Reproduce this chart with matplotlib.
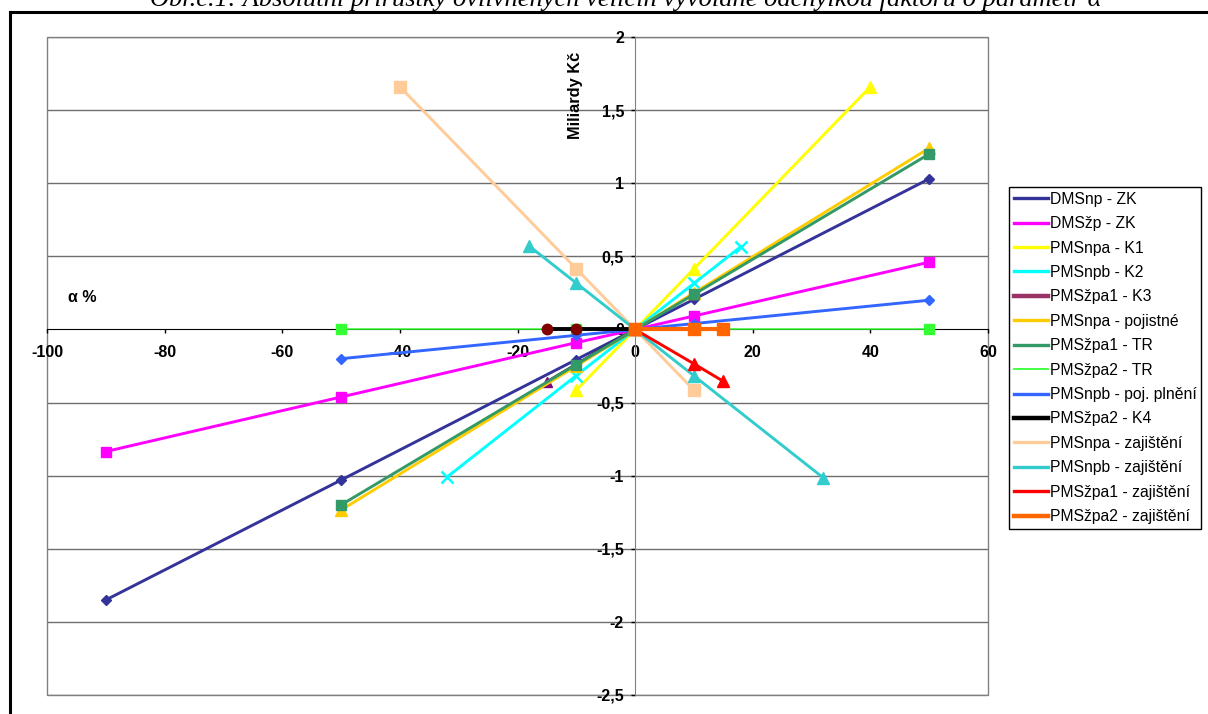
import matplotlib
matplotlib.use('Agg')
import matplotlib.pyplot as plt
from matplotlib.lines import Line2D
from matplotlib.patches import Rectangle
from matplotlib.ticker import FuncFormatter

plt.rcParams['font.family'] = ['Liberation Sans', 'DejaVu Sans']

# === data (x = alpha %, y = miliardy Kč) ===
names = ['DMSnp - ZK', 'DMSžp - ZK', 'PMSnpa - K1', 'PMSnpb - K2', 'PMSžpa1 - K3',
         'PMSnpa - pojistné', 'PMSžpa1 - TR', 'PMSžpa2 - TR', 'PMSnpb - poj. plnění',
         'PMSžpa2 - K4', 'PMSnpa - zajištění', 'PMSnpb - zajištění',
         'PMSžpa1 - zajištění', 'PMSžpa2 - zajištění']

x_dmsnp_zk = [-90, -50, -10, 0, 10, 50]
y_dmsnp_zk = [-1.85, -1.03, -0.206, 0, 0.206, 1.03]
x_dmszp_zk = [-90, -50, -10, 0, 10, 50]
y_dmszp_zk = [-0.835, -0.462, -0.09, 0, 0.092, 0.46]
x_npa_k1 = [-10, 0, 10, 40]
y_npa_k1 = [-0.415, 0, 0.415, 1.66]
x_npb_k2 = [-32, -10, 0, 10, 18]
y_npb_k2 = [-1.01, -0.315, 0, 0.315, 0.567]
x_zpa1_k3 = [-15, 0]
y_zpa1_k3 = [-0.36, 0]
x_npa_poj = [-50, -10, 0, 10, 50]
y_npa_poj = [-1.235, -0.25, 0, 0.25, 1.24]
x_zpa1_tr = [-50, -10, 0, 10, 50]
y_zpa1_tr = [-1.2, -0.24, 0, 0.24, 1.2]
x_zpa2_tr = [-50, -10, 0, 10, 50]
y_zpa2_tr = [0, 0, 0, 0, 0]
x_npb_pp = [-50, -10, 0, 10, 50]
y_npb_pp = [-0.2, -0.04, 0, 0.04, 0.2]
x_zpa2_k4 = [-15, -10, 0]
y_zpa2_k4 = [0, 0, 0]
x_npa_zaj = [-40, -10, 0, 10]
y_npa_zaj = [1.66, 0.415, 0, -0.415]
x_npb_zaj = [-18, -10, 0, 10, 32]
y_npb_zaj = [0.57, 0.317, 0, -0.317, -1.015]
x_zpa1_zaj = [0, 10, 15]
y_zpa1_zaj = [0, -0.235, -0.355]
x_zpa2_zaj = [0, 10, 15]
y_zpa2_zaj = [0, 0, 0]

xs = [x_dmsnp_zk, x_dmszp_zk, x_npa_k1, x_npb_k2, x_zpa1_k3, x_npa_poj, x_zpa1_tr,
      x_zpa2_tr, x_npb_pp, x_zpa2_k4, x_npa_zaj, x_npb_zaj, x_zpa1_zaj, x_zpa2_zaj]
ys = [y_dmsnp_zk, y_dmszp_zk, y_npa_k1, y_npb_k2, y_zpa1_k3, y_npa_poj, y_zpa1_tr,
      y_zpa2_tr, y_npb_pp, y_zpa2_k4, y_npa_zaj, y_npb_zaj, y_zpa1_zaj, y_zpa2_zaj]

# styles: legend colour, line colour, marker, marker colour, marker size, line width
leg_colors = ['#333399', '#FF00FF', '#FFFF00', '#00FFFF', '#993366', '#FFCC00', '#339966',
              '#33FF33', '#3366FF', '#000000', '#FFCC99', '#33CCCC', '#FF0000', '#FF6600']
line_colors = leg_colors[:]
line_colors[4] = '#1a0a14'
markers = ['D', 's', '^', 'x', '^', '^', 's', 's', 'D', 'o', 's', '^', '^', 's']
mcolors = leg_colors[:]
mcolors[4] = '#800080'
mcolors[9] = '#800000'
msizes = [5.5, 7.5, 8, 8, 7.5, 8, 7, 7, 5.5, 7.5, 8, 8, 8, 8.5]
lwidths = [2.1, 2.1, 2.1, 2.1, 2.4, 2.1, 2.1, 1.1, 2.1, 2.8, 2.1, 2.1, 2.1, 3.0]

fig = plt.figure(figsize=(12.08, 7.14), dpi=100)
ax = fig.add_axes([47/1208, 19/714, 941/1208, 658/714])

for i in range(len(names)):
    ax.plot(xs[i], ys[i], color=line_colors[i], lw=lwidths[i], marker=markers[i],
            ms=msizes[i], mfc=mcolors[i], mec=mcolors[i],
            mew=1.8 if markers[i] == 'x' else 1, zorder=3 + i, clip_on=False)

ax.set_xlim(-100, 60)
ax.set_ylim(-2.5, 2)

# horizontal gridlines
for gy in [-2.5, -2, -1.5, -1, -0.5, 0.5, 1, 1.5, 2]:
    ax.axhline(gy, color='#6e6e6e', lw=1.0, zorder=1)

# axes crossing at zero
for s in ['top', 'right']:
    ax.spines[s].set_visible(False)
ax.spines['left'].set_position(('data', 0))
ax.spines['bottom'].set_position(('data', 0))
ax.spines['left'].set_color('#808080')
ax.spines['bottom'].set_color('black')
ax.spines['left'].set_zorder(2)
ax.spines['bottom'].set_zorder(2)
ax.add_patch(Rectangle((0, 0), 1, 1, transform=ax.transAxes, fill=False,
                       ec='#808080', lw=1.0, zorder=1, clip_on=False))

ax.set_xticks(range(-100, 61, 20))
ax.set_yticks([-2.5, -2, -1.5, -1, -0.5, 0, 0.5, 1, 1.5, 2])
fmt = FuncFormatter(lambda v, p: ('%g' % v).replace('.', ','))
ax.xaxis.set_major_formatter(fmt)
ax.yaxis.set_major_formatter(fmt)
ax.tick_params(axis='x', direction='out', length=3, width=1, pad=8,
               labelsize=11.5, color='black')
ax.tick_params(axis='y', direction='out', length=3, width=1, pad=5,
               labelsize=11.5, color='black')
for lab in ax.get_xticklabels() + ax.get_yticklabels():
    lab.set_fontweight('bold')

ax.text(-10.2, 1.6, 'Miliardy Kč', rotation=90, ha='center', va='center',
        fontsize=11.8, fontweight='bold')
ax.text(-94, 0.22, 'α %', ha='center', va='center', fontsize=11.5, fontweight='bold')

# legend
handles = [Line2D([], [], color=leg_colors[i], lw=3.2 if i in (4, 9, 13) else 2.4)
           for i in range(len(names))]
handles[7].set_linewidth(1.3)
leg = fig.legend(handles, names, loc='upper left',
                 bbox_to_anchor=(1009/1208, 1 - 187/714), fontsize=11.3,
                 frameon=True, fancybox=False, edgecolor='black', framealpha=1,
                 borderpad=0.3, borderaxespad=0, handlelength=2.2,
                 handletextpad=0.1, labelspacing=0.6)
leg.get_frame().set_linewidth(1.0)

# frame of the picture and cut-off caption
fig.add_artist(Line2D([10/1208, 10/1208], [0, 1 - 12/714], color='black', lw=2.2))
fig.add_artist(Line2D([10/1208, 1], [1 - 12/714, 1 - 12/714], color='black', lw=2.2))
fig.text(626/1208, 1 - 6/714,
         'Obr.č.1: Absolutní přírůstky ovlivněných veličin vyvolané odchylkou faktoru o parametr α',
         ha='center', va='baseline', fontsize=19, fontstyle='italic',
         family=['Liberation Serif', 'DejaVu Serif'])

plt.savefig('out.png', dpi=100, facecolor='white')
plt.close()
